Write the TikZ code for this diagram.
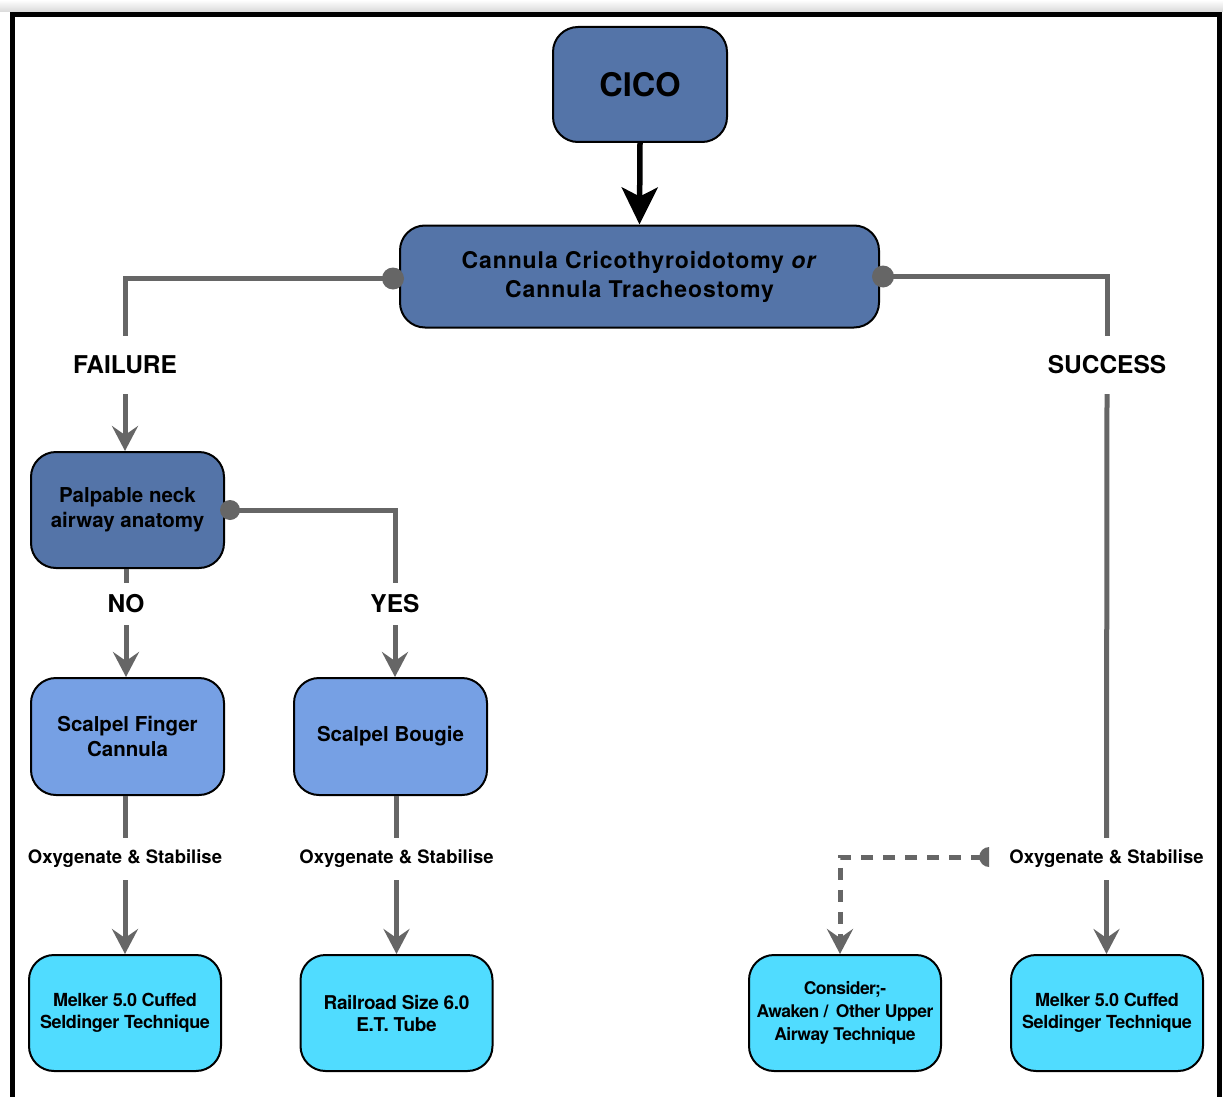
\documentclass[tikz,border=0pt]{standalone}
\usepackage{fontspec}
\setmainfont{TeX Gyre Heros}
\newfontfamily\wideface[LetterSpace=4]{TeX Gyre Heros}
\newfontfamily\tightface[LetterSpace=-2]{TeX Gyre Heros}
\newfontfamily\tighterface[LetterSpace=-3]{TeX Gyre Heros}
\usetikzlibrary{arrows.meta,shadings}
\definecolor{darkblue}{HTML}{5474A8}
\definecolor{midblue}{HTML}{76A0E4}
\definecolor{cyanbox}{HTML}{50DCFF}
\definecolor{linegray}{HTML}{666666}
\begin{document}
\begin{tikzpicture}[x=1pt,y=-1pt,
  box/.style={draw=black,line width=2pt,rounded corners=25pt,inner sep=0pt,
    align=center,font=\bfseries},
  topbox/.style={box,fill=darkblue},
  midbox/.style={box,fill=midblue,minimum width=193pt,minimum height=117pt},
  endbox/.style={box,fill=cyanbox,minimum width=192pt,minimum height=116pt},
  lbl/.style={inner sep=0pt,font=\bfseries},
  biglbl/.style={lbl,font=\bfseries\fontsize{24.5}{28}\selectfont},
  oxlbl/.style={lbl,minimum height=42pt,font=\bfseries\fontsize{18.5}{22}\selectfont},
  flow/.style={draw=linegray,line width=5pt},
  flowarrow/.style={flow,-{Stealth[length=25pt,width=26pt,inset=9pt]}},
  dot/.style={fill=linegray}
]
% page and frame
\useasboundingbox (0,0) rectangle (1223,1097);
\fill[white] (0,0) rectangle (1223,1097);
\shade[top color=white,bottom color=black!15] (0,0) rectangle (1223,12);
\draw[line width=5pt] (12.5,1100) -- (12.5,14.5) -- (1219.5,14.5) -- (1219.5,1100);

% main nodes
\node[topbox,minimum width=174pt,minimum height=115pt,font=\bfseries\fontsize{32.5}{38}\selectfont]
  (cico) at (640,84.5) {CICO};
\node[topbox,minimum width=479pt,minimum height=102pt,
  font=\bfseries\wideface\fontsize{23}{29}\selectfont]
  (cannula) at (639.5,276.5) {Cannula Cricothyroidotomy \textit{or}\\Cannula Tracheostomy};
\node[topbox,minimum width=193pt,minimum height=116pt,font=\bfseries\fontsize{20.5}{25}\selectfont]
  (palp) at (127.5,510) {Palpable neck\\airway anatomy};
\node[midbox,font=\bfseries\fontsize{20.5}{25}\selectfont] (finger) at (127.5,736.5) {Scalpel Finger\\Cannula};
\node[midbox,font=\bfseries\fontsize{20.5}{25}\selectfont] (bougie) at (390.5,736.5) {Scalpel Bougie};
\node[endbox,font=\bfseries\tightface\fontsize{18}{22}\selectfont] (melkerL) at (125,1013) {Melker 5.0 Cuffed\\Seldinger Technique};
\node[endbox,font=\bfseries\tightface\fontsize{19}{22}\selectfont] (rail) at (396.5,1013) {Railroad Size 6.0\\E.T. Tube};
\node[endbox,font=\bfseries\tighterface\fontsize{17.5}{23}\selectfont] (consider) at (845,1013) {Consider;-\\Awaken /\hspace{3pt} Other Upper\\Airway Technique};
\node[endbox,font=\bfseries\tightface\fontsize{18}{22}\selectfont] (melkerR) at (1107,1013) {Melker 5.0 Cuffed\\Seldinger Technique};

% branch labels
\node[biglbl,minimum height=58pt] (failure) at (125,365) {FAILURE};
\node[biglbl,minimum height=58pt] (success) at (1107,365) {SUCCESS};
\node[biglbl,minimum height=42pt] (no) at (126,604) {NO};
\node[biglbl,minimum height=42pt] (yes) at (395,604) {YES};
\node[oxlbl] (oxL) at (125,859) {Oxygenate \& Stabilise};
\node[oxlbl] (oxM) at (396.5,859) {Oxygenate \& Stabilise};
\node[oxlbl] (oxR) at (1106.5,859) {Oxygenate \& Stabilise};

% connectors
\draw[line width=5.5pt,-{Stealth[length=37pt,width=36pt,inset=9pt]}] (cico.south) -- (cannula.north);

\draw[flow] ([yshift=-2pt]cannula.west) -| (failure.north);
\fill[dot] ([yshift=-2pt,xshift=-6pt]cannula.west) circle (11pt);
\draw[flowarrow] (failure.south) -- (palp.north -| failure.south);

\draw[flow] ([xshift=3pt]cannula.east) -| (success.north);
\fill[dot] ([xshift=3pt]cannula.east) circle (11pt);
\draw[flow] (success.south) -- (oxR.north);
\draw[flowarrow] (oxR.south) -- (melkerR.north -| oxR.south);

\draw[flow] ([xshift=5pt]palp.east) -| (yes.north);
\fill[dot] ([xshift=5pt]palp.east) circle (10pt);
\draw[flowarrow] (yes.south) -- (bougie.north -| yes.south);

\draw[flow] (palp.south -| no.north) -- (no.north);
\draw[flowarrow] (no.south) -- (finger.north -| no.south);

\draw[flow] (finger.south -| oxL.north) -- (oxL.north);
\draw[flowarrow] (oxL.south) -- (melkerL.north -| oxL.south);

\draw[flow] (bougie.south -| oxM.north) -- (oxM.north);
\draw[flowarrow] (oxM.south) -- (rail.north -| oxM.south);

% dashed alternative path, starting at a half dot beside the label
\coordinate (hd) at ([xshift=-20pt,yshift=2pt]oxR.west);
\fill[dot] ([yshift=10pt]hd) arc (90:270:10pt) -- cycle;
\draw[flowarrow,dash pattern=on 12pt off 10pt] ([xshift=-6pt]hd) -| ([xshift=-5pt]consider.north);
\end{tikzpicture}
\end{document}
